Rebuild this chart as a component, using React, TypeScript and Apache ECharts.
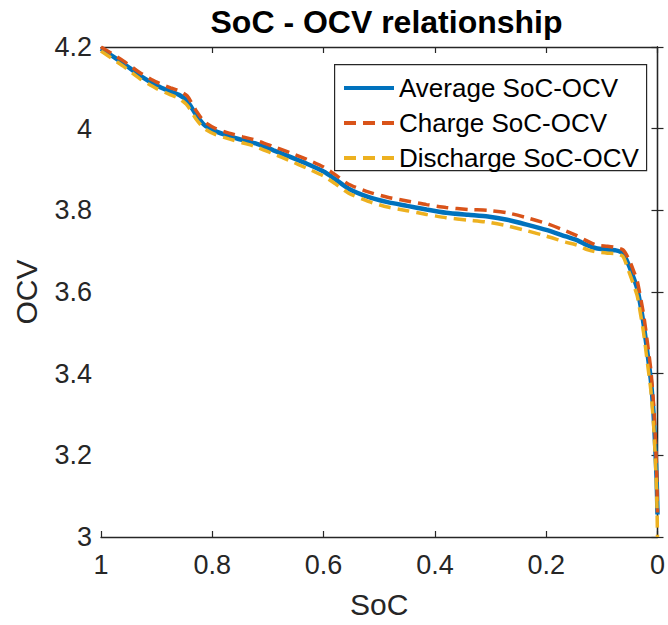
import React, { useEffect, useRef } from "react";
import * as echarts from "echarts";

// State of charge grid shared by all three curves (descending, 1 -> 0)
const socGrid = [
  1.0, 0.96, 0.93, 0.9, 0.875, 0.86, 0.845, 0.83, 0.815, 0.795, 0.77, 0.745,
  0.72, 0.69, 0.66, 0.63, 0.6, 0.58, 0.555, 0.52, 0.485, 0.45, 0.415, 0.38,
  0.34, 0.305, 0.27, 0.235, 0.2, 0.165, 0.145, 0.125, 0.11, 0.09, 0.075,
  0.062, 0.052, 0.043, 0.036, 0.025, 0.018, 0.012, 0.007, 0.004, 0.0015, 0,
];

// Open-circuit voltage (V) at each SoC point
const averageOcv = [
  4.196, 4.16, 4.13, 4.106, 4.091, 4.083, 4.068, 4.036, 4.01, 3.994, 3.982,
  3.972, 3.963, 3.947, 3.931, 3.914, 3.895, 3.877, 3.853, 3.833, 3.82, 3.811,
  3.802, 3.794, 3.789, 3.785, 3.777, 3.765, 3.752, 3.736, 3.727, 3.714, 3.707,
  3.704, 3.702, 3.695, 3.667, 3.635, 3.606, 3.522, 3.45, 3.385, 3.3, 3.22,
  3.14, 3.055,
];

const chargeOcv = [
  4.2, 4.166, 4.137, 4.114, 4.1, 4.093, 4.08, 4.046, 4.018, 4.001, 3.989,
  3.98, 3.971, 3.956, 3.941, 3.925, 3.906, 3.888, 3.864, 3.845, 3.832, 3.823,
  3.814, 3.807, 3.802, 3.8, 3.794, 3.782, 3.768, 3.75, 3.738, 3.724, 3.715,
  3.712, 3.709, 3.703, 3.682, 3.652, 3.625, 3.545, 3.475, 3.41, 3.325, 3.245,
  3.16, 3.06,
];

const dischargeOcv = [
  4.19, 4.153, 4.122, 4.098, 4.083, 4.074, 4.057, 4.025, 4.001, 3.986, 3.975,
  3.965, 3.955, 3.938, 3.921, 3.903, 3.884, 3.866, 3.842, 3.822, 3.808, 3.799,
  3.79, 3.782, 3.776, 3.771, 3.762, 3.75, 3.737, 3.722, 3.715, 3.703, 3.698,
  3.695, 3.694, 3.687, 3.652, 3.618, 3.588, 3.5, 3.425, 3.36, 3.275, 3.195,
  3.11, 3.0,
];

const seriesNames = ["Average SoC-OCV", "Charge SoC-OCV", "Discharge SoC-OCV"];
const seriesColors = ["#0072BD", "#D95319", "#EDB120"];

const FONT = "'Liberation Sans', Arial, Helvetica, sans-serif";
const INK = "#262626";

// Legend glyphs: a solid bar and a three-dash bar
const SOLID_ICON = "path://M0,0h50v4h-50z";
const DASH_ICON = "path://M0,0h12v4h-12z M19,0h12v4h-12z M38,0h12v4h-12z";

const pairs = (vals: number[]) => socGrid.map((s, i) => [s, vals[i]]);

export default function App() {
  const ref = useRef<HTMLDivElement>(null);

  useEffect(() => {
    if (!ref.current) return;
    const chart = echarts.init(ref.current, undefined, { renderer: "svg" });

    const gridL = 101;
    const gridT = 47;
    const gridW = 561;
    const gridH = 490;

    const tickFmt = (v: number) => String(+v.toFixed(1));

    const boxLine = { show: true, lineStyle: { color: INK, width: 1.3 } };
    const boxTick = { show: true, inside: true, length: 6, lineStyle: { color: INK, width: 1.2 } };

    const socAxis = {
      type: "value",
      min: 0,
      max: 1,
      interval: 0.2,
      inverse: true,
      axisLine: boxLine,
      axisTick: boxTick,
      splitLine: { show: false },
    };

    const ocvAxis = {
      type: "value",
      min: 3,
      max: 4.2,
      interval: 0.2,
      axisLine: boxLine,
      axisTick: boxTick,
      splitLine: { show: false },
    };

    chart.setOption({
      animation: false,
      backgroundColor: "#ffffff",
      title: {
        text: "SoC - OCV relationship",
        left: gridL + gridW / 2,
        textAlign: "center",
        top: 1,
        textStyle: { fontFamily: FONT, fontSize: 32, fontWeight: "bold", color: "#000" },
      },
      grid: { left: gridL, top: gridT, width: gridW, height: gridH, containLabel: false },
      legend: {
        orient: "vertical",
        left: 339,
        top: 70,
        itemWidth: 50,
        itemHeight: 4,
        itemGap: 9,
        z: 10,
        itemStyle: { borderWidth: 0 },
        data: [
          { name: seriesNames[0], icon: SOLID_ICON },
          { name: seriesNames[1], icon: DASH_ICON },
          { name: seriesNames[2], icon: DASH_ICON },
        ],
        textStyle: { fontFamily: FONT, fontSize: 26, color: "#000", lineHeight: 26 },
      },
      graphic: [
        {
          type: "rect",
          left: 334,
          top: 64,
          shape: { width: 312, height: 106 },
          style: { fill: "#fff", stroke: INK, lineWidth: 1.2 },
          z: 5,
        },
      ],
      xAxis: [
        {
          ...socAxis,
          position: "bottom",
          name: "SoC",
          nameLocation: "middle",
          nameGap: 52,
          nameTextStyle: { fontFamily: FONT, fontSize: 30, color: INK },
          axisLabel: { fontFamily: FONT, fontSize: 27, color: INK, margin: 14, formatter: tickFmt },
        },
        { ...socAxis, position: "top", axisLabel: { show: false } },
      ],
      yAxis: [
        {
          ...ocvAxis,
          position: "left",
          name: "OCV",
          nameLocation: "middle",
          nameGap: 60,
          nameTextStyle: { fontFamily: FONT, fontSize: 30, color: INK },
          axisLabel: { fontFamily: FONT, fontSize: 27, color: INK, margin: 9, formatter: tickFmt },
        },
        { ...ocvAxis, position: "right", axisLabel: { show: false } },
      ],
      series: [
        {
          name: seriesNames[0],
          type: "line",
          data: pairs(averageOcv),
          symbol: "none",
          smooth: 0.2,
          color: seriesColors[0],
          lineStyle: { color: seriesColors[0], width: 4.5 },
          z: 2,
        },
        {
          name: seriesNames[1],
          type: "line",
          data: pairs(chargeOcv),
          symbol: "none",
          smooth: 0.2,
          color: seriesColors[1],
          lineStyle: { color: seriesColors[1], width: 3.5, type: [12, 7] },
          z: 3,
        },
        {
          name: seriesNames[2],
          type: "line",
          data: pairs(dischargeOcv),
          symbol: "none",
          smooth: 0.2,
          color: seriesColors[2],
          lineStyle: { color: seriesColors[2], width: 3.5, type: [12, 7] },
          z: 4,
        },
      ],
    });

    return () => chart.dispose();
  }, []);

  return (
    <div
      ref={ref}
      style={{ position: "absolute", left: 0, top: 0, width: 668, height: 625 }}
    />
  );
}
